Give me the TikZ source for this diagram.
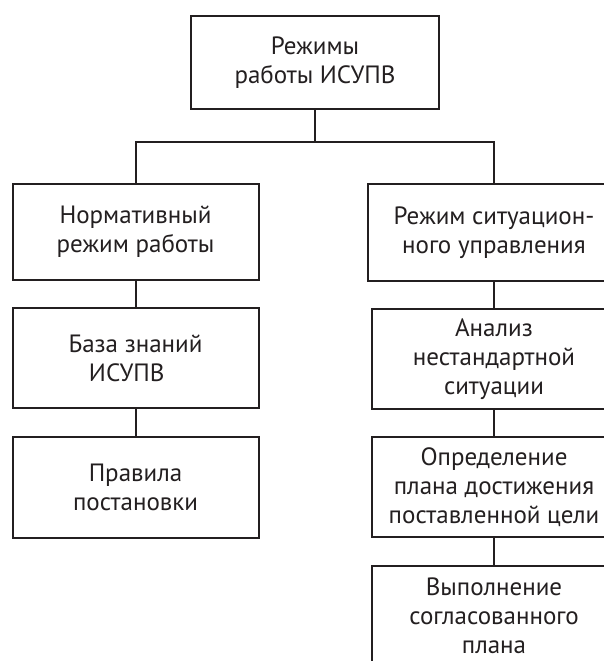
\documentclass[tikz,border=0pt]{standalone}
\usepackage{fontspec}
\setmainfont{PT Sans}
\definecolor{ink}{HTML}{231F20}
\begin{document}
\begin{tikzpicture}[x=1pt,y=1pt,
  box/.style={draw=ink, line width=2pt, inner sep=0pt, align=center,
    text=ink, font=\fontsize{25}{29}\selectfont},
  link/.style={draw=ink, line width=2pt}]
\clip (0,0) rectangle (604,-661);
\fill[white] (0,0) rectangle (604,-661);

% root
\node[box, minimum width=248pt, minimum height=93pt] (top) at (315,-62.5)
  {Режимы\\работы ИСУПВ};

% left branch
\node[box, minimum width=246pt, minimum height=96pt] (L1) at (135.5,-232)
  {Нормативный\\режим работы};
\node[box, minimum width=246pt, minimum height=100pt] (L2) at (135.5,-358)
  {База знаний\\ИСУПВ\hspace*{0.7em}};
\node[box, minimum width=246pt, minimum height=101pt] (L3) at (135.5,-487.5)
  {Правила\\постановки};

% right branch
\node[box, minimum width=252pt, minimum height=97pt] (R1) at (494,-232.5)
  {Режим ситуацион-\\ного управления};
\node[box, minimum width=244pt, minimum height=100pt] (R2) at (494,-359)
  {Анализ\\нестандартной\\ситуации};
\node[box, minimum width=244pt, minimum height=100pt] (R3) at (494,-487)
  {Определение\\плана достижения\\поставленной цели};
\node[box, minimum width=244pt, minimum height=100pt] (R4) at (494,-616)
  {Выполнение\\согласованного\\плана};

% connectors
\coordinate (bus) at (315,-142);
\draw[link] (top.south) -- (bus);
\draw[link] (L1.north) |- (bus) -| (R1.north);
\draw[link] (L1.south) -- (L2.north);
\draw[link] (L2.south) -- (L3.north);
\draw[link] (R1.south) -- (R2.north);
\draw[link] (R2.south) -- (R3.north);
\draw[link] (R3.south) -- (R4.north);
\end{tikzpicture}
\end{document}
